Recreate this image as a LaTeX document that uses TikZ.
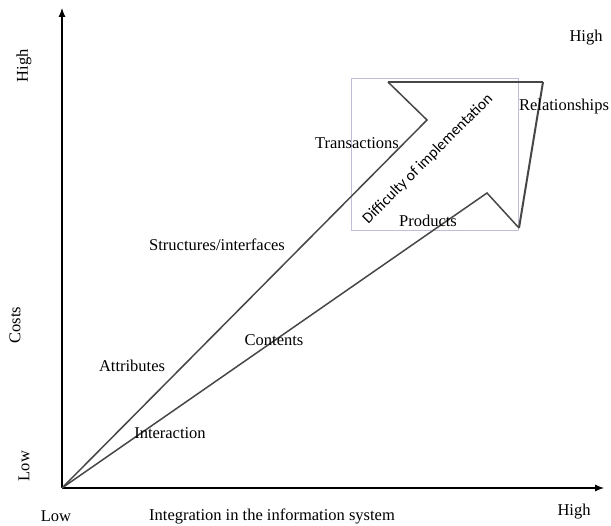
\documentclass[tikz,border=0pt]{standalone}
\usepackage{fontspec}
\setmainfont{Liberation Serif}
\newfontfamily\calfont{Carlito}
\usetikzlibrary{arrows.meta}
\begin{document}
\begin{tikzpicture}[x=1pt,y=-1pt,
  axis/.style={line width=1.1pt,-{Latex[length=9pt,width=7pt]}},
  pathline/.style={draw=black!72,line width=1.5pt,line join=miter},
  zone/.style={draw=blue!25!gray!40,line width=0.8pt},
  lbl/.style={font=\fontsize{16.5}{18}\selectfont,inner sep=1pt}]
\useasboundingbox (0,0) rectangle (611,526);

% axes
\coordinate (o) at (62,488);
\coordinate (ytip) at (62,8);
\coordinate (xtip) at (604,488);
\draw[axis] (o) -- (ytip);
\draw[axis] (o) -- (xtip);

% highlighted region around the arrow head
\draw[zone] (351,78) rectangle (518,230);

% arrow-shaped band
\coordinate (notchU) at (427,120);
\coordinate (tl) at (388,82);
\coordinate (tr) at (543,82);
\coordinate (br) at (519,228);
\coordinate (notchL) at (487,193);
\draw[pathline] (o) -- (notchU) -- (tl);
\draw[draw=black!72,line width=2.4pt] (tl) -- (tr);
\draw[draw=black!72,line width=2pt] (tr) -- (br);
\draw[pathline] (br) -- (notchL) -- (o);

% axis labels
\node[lbl,rotate=90] (yhigh) at (24,66) {High};
\node[lbl,rotate=90] (ycost) at (15,325) {Costs};
\node[lbl,rotate=90] (ylow) at (24,466) {Low};
\node[lbl] (xlow) at (56,516) {Low};
\node[lbl] (xname) at (272,516) {Integration in the information system};
\node[lbl] (xhigh) at (574,512) {High};
\node[lbl] (tophigh) at (586,38) {High};

% band labels
\node[lbl] (trans) at (357,143) {Transactions};
\node[lbl] (rel) at (564,107) {Relationships};
\node[lbl] (prod) at (428,221) {Products};
\node[lbl] (struct) at (217,245) {Structures/interfaces};
\node[lbl] (cont) at (274,340) {Contents};
\node[lbl] (attr) at (132,366) {Attributes};
\node[lbl] (inter) at (170,433) {Interaction};
\node[font=\calfont\fontsize{15.5}{17}\selectfont,inner sep=1pt,rotate=45] (diff) at (428,159) {Difficulty of implementation};
\end{tikzpicture}
\end{document}
